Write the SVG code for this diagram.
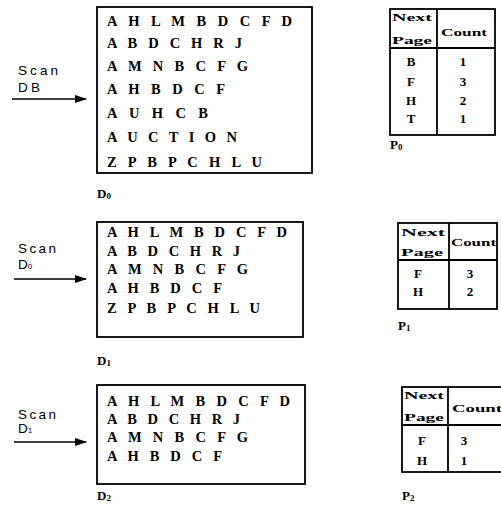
<svg xmlns="http://www.w3.org/2000/svg" width="501" height="510" viewBox="0 0 501 510">
<defs>
<marker id="ah" markerWidth="12" markerHeight="8" refX="11" refY="4" orient="auto" markerUnits="userSpaceOnUse">
<path d="M0,0 L12,4 L0,8 Z" fill="#000"/>
</marker>
<style>
.box{fill:#fff;stroke:#000;stroke-width:1.8}
.tb{fill:none;stroke:#000;stroke-width:1.8}
.row{font-family:"Liberation Serif",serif;font-weight:bold;font-size:14.5px;fill:#000}
.lbl{font-family:"Liberation Serif",serif;font-weight:bold;font-size:13px;fill:#000}
.th{font-family:"Liberation Serif",serif;font-weight:bold;font-size:11px;fill:#000}
.tc{font-family:"Liberation Serif",serif;font-weight:bold;font-size:13px;fill:#000;text-anchor:middle}
.scan{font-family:"Liberation Sans",sans-serif;font-size:13.5px;fill:#000}
.con{stroke:#000;stroke-width:1.5;fill:none}
</style>
</defs>
<rect width="501" height="510" fill="#fff"/>

<g id="db">
<rect class="box" x="97" y="7" width="215" height="166"/>
<text class="row" x="107" y="26" textLength="185" lengthAdjust="spacing">A H L M B D C F D</text>
<text class="row" x="107" y="48" textLength="135" lengthAdjust="spacing">A B D C H R J</text>
<text class="row" x="107" y="71" textLength="141" lengthAdjust="spacing">A M N B C F G</text>
<text class="row" x="107" y="94" textLength="118" lengthAdjust="spacing">A H B D C F</text>
<text class="row" x="107" y="118" textLength="101" lengthAdjust="spacing">A U H C B</text>
<text class="row" x="107" y="142" textLength="130" lengthAdjust="spacing">A U C T I O N</text>
<text class="row" x="107" y="167" textLength="155" lengthAdjust="spacing">Z P B P C H L U</text>
<text class="lbl" x="97" y="198">D<tspan font-size="9" dy="1">0</tspan></text>
</g>

<g id="d0">
<rect class="box" x="97" y="222" width="206" height="115"/>
<text class="row" x="107" y="237" textLength="180" lengthAdjust="spacing">A H L M B D C F D</text>
<text class="row" x="107" y="256" textLength="133" lengthAdjust="spacing">A B D C H R J</text>
<text class="row" x="107" y="274" textLength="141" lengthAdjust="spacing">A M N B C F G</text>
<text class="row" x="107" y="293" textLength="115" lengthAdjust="spacing">A H B D C F</text>
<text class="row" x="107" y="313" textLength="153" lengthAdjust="spacing">Z P B P C H L U</text>
<text class="lbl" x="97" y="365">D<tspan font-size="9" dy="1">1</tspan></text>
</g>

<g id="d1">
<rect class="box" x="97" y="385" width="208" height="99"/>
<text class="row" x="107" y="406" textLength="183" lengthAdjust="spacing">A H L M B D C F D</text>
<text class="row" x="107" y="424" textLength="133" lengthAdjust="spacing">A B D C H R J</text>
<text class="row" x="107" y="442" textLength="141" lengthAdjust="spacing">A M N B C F G</text>
<text class="row" x="107" y="461" textLength="115" lengthAdjust="spacing">A H B D C F</text>
<text class="lbl" x="97" y="500">D<tspan font-size="9" dy="1">2</tspan></text>
</g>

<g id="p0">
<rect class="tb" x="390" y="9" width="105" height="126"/>
<line class="tb" x1="437" y1="9" x2="437" y2="135"/>
<line class="tb" x1="390" y1="48" x2="495" y2="48"/>
<text class="th" x="392" y="21" textLength="40" lengthAdjust="spacingAndGlyphs">Next</text>
<text class="th" x="392" y="44" textLength="40" lengthAdjust="spacingAndGlyphs">Page</text>
<text class="th" x="441" y="36" textLength="46" lengthAdjust="spacingAndGlyphs">Count</text>
<text class="tc" x="411" y="66">B</text><text class="tc" x="463" y="66">1</text>
<text class="tc" x="411" y="86">F</text><text class="tc" x="463" y="86">3</text>
<text class="tc" x="411" y="105">H</text><text class="tc" x="463" y="105">2</text>
<text class="tc" x="411" y="123">T</text><text class="tc" x="463" y="123">1</text>
<text class="lbl" x="390" y="149">P<tspan font-size="9" dy="1">0</tspan></text>
</g>

<g id="p1">
<rect class="tb" x="398" y="223" width="99" height="86"/>
<line class="tb" x1="449" y1="223" x2="449" y2="309"/>
<line class="tb" x1="398" y1="260" x2="497" y2="260"/>
<text class="th" x="401" y="236" textLength="44" lengthAdjust="spacingAndGlyphs">Next</text>
<text class="th" x="401" y="256" textLength="42" lengthAdjust="spacingAndGlyphs">Page</text>
<text class="th" x="451" y="246" textLength="45" lengthAdjust="spacingAndGlyphs">Count</text>
<text class="tc" x="418" y="278">F</text><text class="tc" x="470" y="278">3</text>
<text class="tc" x="418" y="296">H</text><text class="tc" x="470" y="296">2</text>
<text class="lbl" x="398" y="330">P<tspan font-size="9" dy="1">1</tspan></text>
</g>

<g id="p2">
<rect class="tb" x="402" y="387" width="110" height="85"/>
<line class="tb" x1="448" y1="387" x2="448" y2="472"/>
<line class="tb" x1="402" y1="425" x2="512" y2="425"/>
<text class="th" x="404" y="399" textLength="40" lengthAdjust="spacingAndGlyphs">Next</text>
<text class="th" x="404" y="421" textLength="40" lengthAdjust="spacingAndGlyphs">Page</text>
<text class="th" x="452" y="412" textLength="50" lengthAdjust="spacingAndGlyphs">Count</text>
<text class="tc" x="422" y="445">F</text><text class="tc" x="464" y="445">3</text>
<text class="tc" x="422" y="465">H</text><text class="tc" x="464" y="465">1</text>
<text class="lbl" x="402" y="500">P<tspan font-size="9" dy="1">2</tspan></text>
</g>

<g id="scan-labels">
<text class="scan" x="18" y="75" textLength="40" lengthAdjust="spacing">Scan</text>
<text class="scan" x="18" y="92" textLength="22" lengthAdjust="spacing">DB</text>
<text class="scan" x="18" y="253" textLength="38" lengthAdjust="spacing">Scan</text>
<text class="scan" x="18" y="269" font-size="10">D<tspan font-size="8">0</tspan></text>
<text class="scan" x="18" y="419" textLength="38" lengthAdjust="spacing">Scan</text>
<text class="scan" x="18" y="433" font-size="11">D<tspan font-size="8">1</tspan></text>
</g>

<g id="connectors">
<line class="con" x1="12" y1="99" x2="86" y2="99" marker-end="url(#ah)"/>
<line class="con" x1="14" y1="279" x2="86" y2="279" marker-end="url(#ah)"/>
<line class="con" x1="14" y1="442" x2="86" y2="442" marker-end="url(#ah)"/>
</g>
</svg>
